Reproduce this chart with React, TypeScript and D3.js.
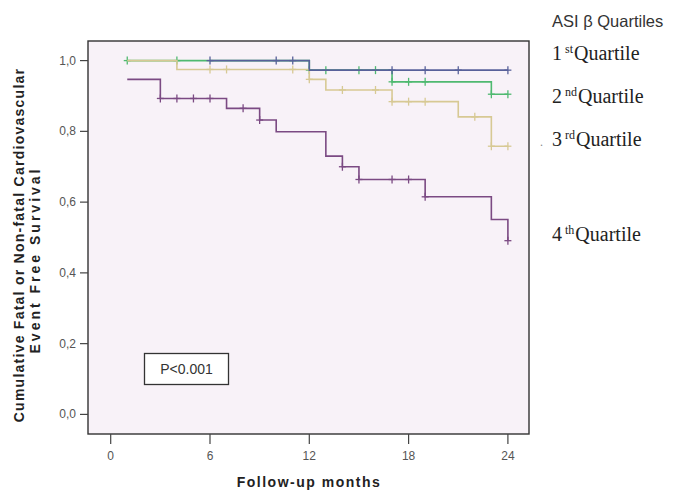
import React from "react";
import * as d3 from "d3";

// ---- data ----
const xTicks = [0, 6, 12, 18, 24];
const yTicks = [0, 0.2, 0.4, 0.6, 0.8, 1.0];

// step points [time, survival] for each quartile
const q1Time = [6, 12, 24];
const q1Surv = [1.0, 0.973, 0.973];
const q1Censor = [6, 10, 11, 17, 19, 21, 24];

const q2Time = [1, 12, 17, 23, 24];
const q2Surv = [1.0, 0.973, 0.94, 0.905, 0.905];
const q2Censor = [1, 4, 12, 13, 15, 16, 17, 18, 19, 23, 24];

const q3Time = [1, 4, 12, 13, 17, 21, 23, 24];
const q3Surv = [1.0, 0.975, 0.947, 0.917, 0.884, 0.841, 0.758, 0.758];
const q3Censor = [6, 7, 11, 12, 14, 16, 17, 18, 19, 22, 23, 24];

const q4Time = [1, 3, 7, 9, 10, 13, 14, 15, 19, 23, 24];
const q4Surv = [0.947, 0.893, 0.865, 0.832, 0.799, 0.73, 0.7, 0.664, 0.615, 0.551, 0.491];
const q4Censor = [3, 4, 5, 6, 8, 9, 14, 15, 17, 18, 19, 24];

const seriesNames = ["1", "2", "3", "4"];
const seriesSup = ["st", "nd", "rd", "th"];
const pValueText = "P<0.001";

// ---- layout ----
const W = 675;
const H = 501;
const frame = { left: 88, right: 529, top: 41, bottom: 434 };

const x = d3.scaleLinear().domain([0, 24]).range([110.7, 507.9]);
const y = d3.scaleLinear().domain([0, 1]).range([414.4, 60.6]);

type Series = { times: number[]; surv: number[]; censor: number[]; color: string };

const series: Series[] = [
  { times: q2Time, surv: q2Surv, censor: q2Censor, color: "#4fb970" },
  { times: q3Time, surv: q3Surv, censor: q3Censor, color: "#d7c994" },
  { times: q1Time, surv: q1Surv, censor: q1Censor, color: "#58619a" },
  { times: q4Time, surv: q4Surv, censor: q4Censor, color: "#7b4a83" },
];

const stepLine = d3
  .line<[number, number]>()
  .x((d) => x(d[0]))
  .y((d) => y(d[1]))
  .curve(d3.curveStepAfter);

function survAt(s: Series, t: number) {
  const i = d3.bisectRight(s.times, t) - 1;
  return s.surv[Math.max(0, i)];
}

const fmt = (v: number) => d3.format(".1f")(v).replace(".", ",");

export default function App() {
  const sans = "'Liberation Sans', Arial, sans-serif";
  const serif = "'Liberation Serif', 'Times New Roman', serif";
  const legendY = [60, 103, 146, 241];
  return (
    <svg
      width={W}
      height={H}
      style={{ position: "absolute", left: 0, top: 0, background: "#fff" }}
    >
      <rect x={0} y={0} width={W} height={H} fill="#fff" />
      <rect
        x={frame.left}
        y={frame.top}
        width={frame.right - frame.left}
        height={frame.bottom - frame.top}
        fill="#f8f2f8"
      />
      {/* curves */}
      {series.map((s, i) => {
        const pts: [number, number][] = s.times.map((t, k) => [t, s.surv[k]]);
        return (
          <g key={i}>
            <path d={stepLine(pts) || ""} fill="none" stroke={s.color} strokeWidth={1.6} />
            {s.censor.map((t, k) => {
              const cx = x(t);
              const cy = y(survAt(s, t));
              return (
                <g key={k} stroke={s.color} strokeWidth={1.3}>
                  <line x1={cx - 3.5} x2={cx + 3.5} y1={cy} y2={cy} />
                  <line x1={cx} x2={cx} y1={cy - 4} y2={cy + 4} />
                </g>
              );
            })}
          </g>
        );
      })}
      {/* frame */}
      <rect
        x={frame.left}
        y={frame.top}
        width={frame.right - frame.left}
        height={frame.bottom - frame.top}
        fill="none"
        stroke="#333"
        strokeWidth={1.4}
      />
      {/* y axis ticks */}
      {yTicks.map((v) => (
        <g key={v}>
          <line x1={80} x2={frame.left} y1={y(v)} y2={y(v)} stroke="#444" strokeWidth={1.2} />
          <text
            x={76}
            y={y(v) + 4}
            textAnchor="end"
            fontFamily={sans}
            fontSize={12}
            fill="#555"
          >
            {fmt(v)}
          </text>
        </g>
      ))}
      {/* x axis ticks */}
      {xTicks.map((v) => (
        <g key={v}>
          <line x1={x(v)} x2={x(v)} y1={frame.bottom} y2={frame.bottom + 10} stroke="#444" strokeWidth={1.2} />
          <text
            x={x(v)}
            y={460}
            textAnchor="middle"
            fontFamily={sans}
            fontSize={12}
            fill="#555"
          >
            {v}
          </text>
        </g>
      ))}
      {/* axis titles */}
      <text
        x={309}
        y={487}
        textAnchor="middle"
        fontFamily={sans}
        fontSize={14}
        fontWeight="bold"
        fill="#222"
        letterSpacing={1.5}
      >
        Follow-up months
      </text>
      <text
        transform="translate(24,245) rotate(-90)"
        textAnchor="middle"
        fontFamily={sans}
        fontSize={14}
        fontWeight="bold"
        fill="#222"
        letterSpacing={1.25}
      >
        Cumulative Fatal or Non-fatal Cardiovascular
      </text>
      <text
        transform="translate(40,260) rotate(-90)"
        textAnchor="middle"
        fontFamily={sans}
        fontSize={14}
        fontWeight="bold"
        fill="#222"
        letterSpacing={3}
      >
        Event Free Survival
      </text>
      {/* p value box */}
      <rect x={144.5} y={353.5} width={84} height={31} fill="#fff" stroke="#333" strokeWidth={1.3} />
      <text x={186.5} y={374} textAnchor="middle" fontFamily={sans} fontSize={14} fill="#333">
        {pValueText}
      </text>
      {/* legend */}
      <text x={552} y={27} fontFamily={sans} fontSize={16.5} fill="#333">
        ASI β Quartiles
      </text>
      {seriesNames.map((n, i) => (
        <text key={n} x={552} y={legendY[i]} fontFamily={serif} fontSize={20} fill="#222">
          {n}
          <tspan fontSize={12} dy={-7} dx={3}>
            {seriesSup[i]}
          </tspan>
          <tspan dy={7} dx={1}>
            Quartile
          </tspan>
        </text>
      ))}
      <text x={540} y={146} fontFamily={serif} fontSize={12} fill="#888">
        .
      </text>
    </svg>
  );
}
